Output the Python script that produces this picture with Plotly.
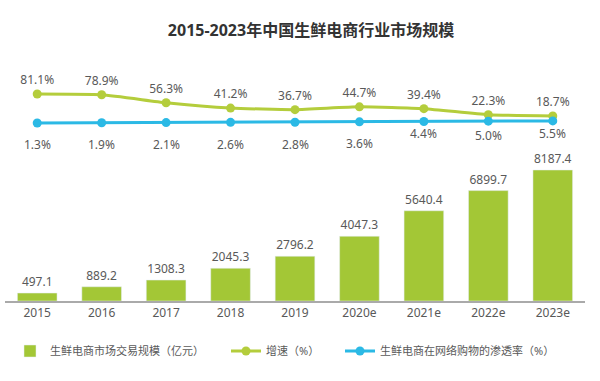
import plotly.graph_objects as go

years = ["2015", "2016", "2017", "2018", "2019", "2020e", "2021e", "2022e", "2023e"]
market_size = [497.1, 889.2, 1308.3, 2045.3, 2796.2, 4047.3, 5640.4, 6899.7, 8187.4]
growth = [81.1, 78.9, 56.3, 41.2, 36.7, 44.7, 39.4, 22.3, 18.7]
penetration = [1.3, 1.9, 2.1, 2.6, 2.8, 3.6, 4.4, 5.0, 5.5]

W, H = 600, 381
def py(px):
    return 1 - px / H

bar_green = "#a3c736"
line_green = "#b4cd3c"
blue = "#2bb9e5"
gray = "#595959"
font_family = "Noto Sans, Noto Sans CJK SC, sans-serif"

# vertical offsets (px) of penetration labels below their points
pen_label_shift = [-22, -22, -22, -22, -22, -22, -12, -14, -13]

fig = go.Figure()
fig.add_trace(go.Bar(
    x=years, y=market_size, name="生鲜电商市场交易规模（亿元）",
    marker_color=bar_green, text=[f"{v:.1f}" for v in market_size],
    textposition="outside", textfont=dict(color=gray, size=12),
    cliponaxis=False, yaxis="y", legend="legend",
))
fig.add_trace(go.Scatter(
    x=years, y=growth, name="增速（%）", mode="lines+markers+text",
    line=dict(color=line_green, width=3, shape="spline", smoothing=0.5),
    marker=dict(color=line_green, size=9),
    text=[f"{v:.1f}%" for v in growth], textposition="top center",
    textfont=dict(color=gray, size=12), cliponaxis=False, yaxis="y2", legend="legend2",
))
fig.add_trace(go.Scatter(
    x=years, y=penetration, name="生鲜电商在网络购物的渗透率（%）", mode="lines+markers",
    line=dict(color=blue, width=3),
    marker=dict(color=blue, size=9),
    cliponaxis=False, yaxis="y3", legend="legend3",
))

for i, (v, s) in enumerate(zip(penetration, pen_label_shift)):
    fig.add_annotation(x=i, y=v, yref="y3", xref="x", text=f"{v:.1f}%", showarrow=False,
                       yshift=s, font=dict(color=gray, size=12), yanchor="middle")

leg_common = dict(orientation="h", yanchor="middle", xanchor="left",
                  font=dict(size=11, color=gray), itemwidth=30, bgcolor="rgba(0,0,0,0)",
                  y=py(351))

fig.update_layout(
    width=W, height=H,
    margin=dict(l=5, r=15, t=0, b=0),
    paper_bgcolor="white", plot_bgcolor="rgba(0,0,0,0)",
    font=dict(family=font_family, color=gray, size=12),
    title=dict(text="<b>2015-2023年中国生鲜电商行业市场规模</b>", x=311 / W, xanchor="center",
               xref="container", y=py(30), yanchor="middle", font=dict(size=16, color="#333333")),
    bargap=0.385,
    showlegend=True,
    legend=dict(x=5 / 580, **leg_common),
    legend2=dict(x=221 / 580, **leg_common),
    legend3=dict(x=335 / 580, **leg_common),
    xaxis=dict(type="category", range=[-0.5, len(years) - 0.5], showgrid=False, showline=True,
               linecolor="#aaaaaa", linewidth=1.5,
               ticks="", tickfont=dict(size=12, color=gray), domain=[0, 1], anchor="y"),
    yaxis=dict(domain=[py(301), py(140)], range=[0, 10062], visible=False, showgrid=False),
    yaxis2=dict(domain=[py(140), py(60)], range=[-49.4, 177.5], visible=False, showgrid=False,
                anchor="x"),
    yaxis3=dict(range=[-32.7, 127.3], visible=False, showgrid=False,
                overlaying="y2", anchor="x"),
)
fig.write_html("out.html", config={"displayModeBar": False},
               post_script="document.body.style.margin='0';")
